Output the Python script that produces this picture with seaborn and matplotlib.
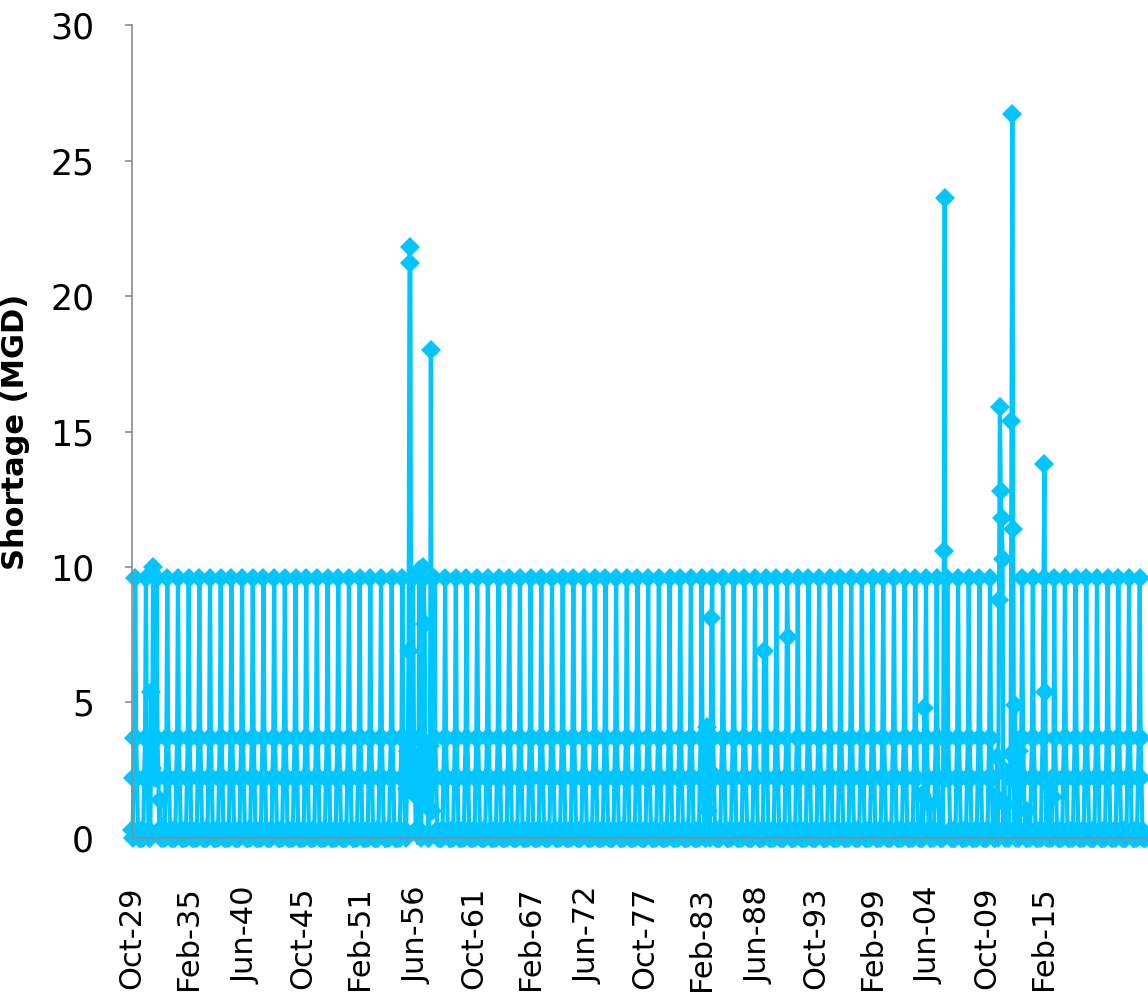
import numpy as np
import pandas as pd
import seaborn as sns
import matplotlib.pyplot as plt

# monthly record, Oct-1929 onward, 95 water years
start = '1929-10'
n_years = 95

# typical water-year cycle (Oct ... Sep)
cycle = [0.3, 0.0, 2.2, 3.7, 9.6, 3.7, 2.2, 0.3, 0.0, 0.0, 0.0, 0.0]

# months that break the usual cycle
events = {
    '1931-08': 5.4, '1931-09': 2.6, '1931-10': 10.0, '1931-11': 3.7, '1932-06': 1.4,
    '1955-07': 1.8, '1955-08': 3.2, '1955-09': 6.9, '1955-10': 21.8, '1955-11': 21.2,
    '1956-06': 1.5, '1956-07': 3.0, '1956-08': 2.0, '1956-09': 9.9,
    '1957-01': 10.0, '1957-03': 7.9, '1957-05': 1.2, '1957-06': 2.8,
    '1957-09': 3.4, '1957-10': 18.0, '1957-11': 1.0,
    '1983-08': 4.1, '1983-09': 1.0, '1983-10': 2.5, '1984-01': 8.1,
    '1988-12': 6.9, '1991-03': 7.4,
    '2003-10': 1.6, '2003-12': 4.8, '2004-06': 1.2,
    '2005-10': 10.6, '2005-11': 23.6,
    '2010-09': 1.5, '2010-10': 3.0, '2010-12': 8.8, '2011-01': 15.9, '2011-02': 12.8,
    '2011-03': 11.8, '2011-04': 10.3, '2011-06': 2.5, '2011-08': 1.2,
    '2012-01': 3.1, '2012-02': 15.4, '2012-03': 26.7, '2012-04': 11.4, '2012-06': 4.9,
    '2012-08': 2.0, '2012-10': 3.2, '2013-07': 1.0,
    '2015-03': 13.8, '2015-04': 5.4, '2015-07': 2.0, '2016-01': 1.5,
}

tick_labels = ['Oct-29', 'Feb-35', 'Jun-40', 'Oct-45', 'Feb-51', 'Jun-56', 'Oct-61',
               'Feb-67', 'Jun-72', 'Oct-77', 'Feb-83', 'Jun-88', 'Oct-93', 'Feb-99',
               'Jun-04', 'Oct-09', 'Feb-15']

dates = pd.period_range(start, periods=n_years * 12, freq='M')
values = np.tile(cycle, n_years).astype(float)
df = pd.DataFrame({'date': dates, 'shortage': values})
df['month'] = np.arange(len(df))
for d, v in events.items():
    df.loc[df['date'] == pd.Period(d, 'M'), 'shortage'] = v
df['label'] = df['date'].dt.strftime('%b-%y')

sns.set_style('white')
plt.rcParams['font.family'] = ['DejaVu Sans']

fig = plt.figure(figsize=(11.48, 9.97), dpi=100)
ax = fig.add_axes([0.1147, 0.1595, 0.8835, 0.8154])

sns.lineplot(data=df, x='month', y='shortage', ax=ax, color='#00C5FF',
             linewidth=3, marker='D', markersize=10, markeredgewidth=0,
             clip_on=False)

ax.set_xlim(0, len(df) - 1)
ax.set_ylim(0, 30)
ax.set_yticks(range(0, 31, 5))

tick_pos = [df.index[df['label'] == t][0] for t in tick_labels]
ax.set_xticks(tick_pos)
ax.set_xticklabels(tick_labels, rotation=90)

ax.set_xlabel('')
ax.set_ylabel('Shortage (MGD)', fontsize=22, fontweight='bold', color='black')
ax.yaxis.set_label_coords(-0.1, 0.5)

for s in ['top', 'right']:
    ax.spines[s].set_visible(False)
for s in ['left', 'bottom']:
    ax.spines[s].set_color('#8c8c8c')
    ax.spines[s].set_linewidth(1.2)

ax.tick_params(axis='y', direction='out', length=5, width=1.2, color='#8c8c8c',
               labelsize=25, labelcolor='black', pad=22, left=True)
ax.tick_params(axis='x', direction='out', length=5, width=1.2, color='#8c8c8c',
               labelsize=22, labelcolor='black', pad=30, bottom=True)

fig.savefig('out.png', dpi=100)
